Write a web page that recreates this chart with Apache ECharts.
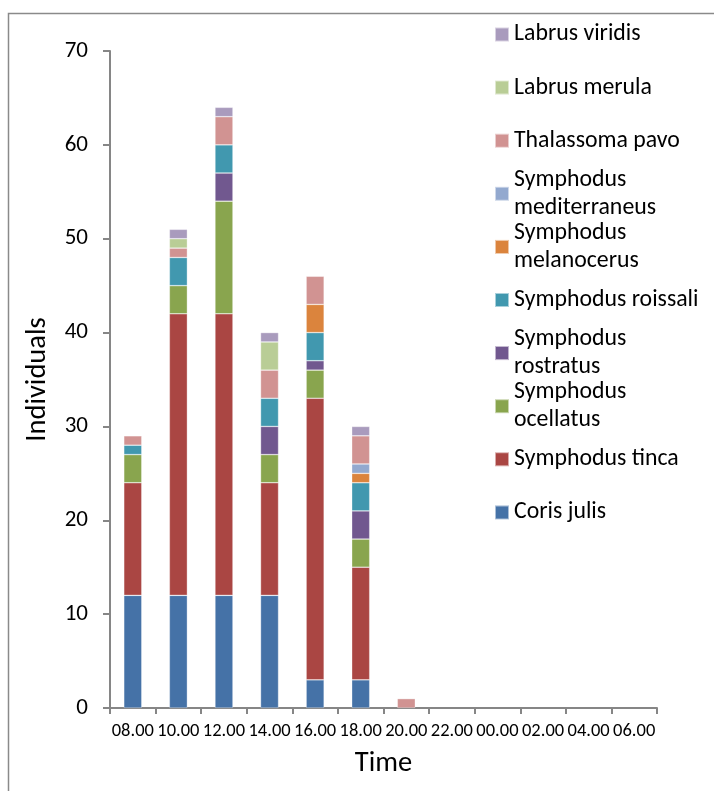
<!DOCTYPE html>
<html>
<head>
<meta charset="utf-8">
<script src="https://cdn.jsdelivr.net/npm/echarts@6/dist/echarts.min.js"></script>
<style>
  html, body { margin: 0; padding: 0; background: #fff; }
  #chart { width: 714px; height: 791px; }
</style>
</head>
<body>
<div id="chart"></div>
<script>
// Sampling times (x axis categories)
const categories = ['08.00', '10.00', '12.00', '14.00', '16.00', '18.00', '20.00', '22.00', '00.00', '02.00', '04.00', '06.00'];

// Individuals counted per species at each time
const corisJulis            = [12, 12, 12, 12, 3, 3, 0, 0, 0, 0, 0, 0];
const symphodusTinca        = [12, 30, 30, 12, 30, 12, 0, 0, 0, 0, 0, 0];
const symphodusOcellatus    = [3, 3, 12, 3, 3, 3, 0, 0, 0, 0, 0, 0];
const symphodusRostratus    = [0, 0, 3, 3, 1, 3, 0, 0, 0, 0, 0, 0];
const symphodusRoissali     = [1, 3, 3, 3, 3, 3, 0, 0, 0, 0, 0, 0];
const symphodusMelanocerus  = [0, 0, 0, 0, 3, 1, 0, 0, 0, 0, 0, 0];
const symphodusMediterraneus = [0, 0, 0, 0, 0, 1, 0, 0, 0, 0, 0, 0];
const thalassomaPavo        = [1, 1, 3, 3, 3, 3, 1, 0, 0, 0, 0, 0];
const labrusMerula          = [0, 1, 0, 3, 0, 0, 0, 0, 0, 0, 0, 0];
const labrusViridis         = [0, 1, 1, 1, 0, 1, 0, 0, 0, 0, 0, 0];

// Y axis range
const yMin = 0, yMax = 70, yStep = 10;

// Stacking order, bottom to top
const speciesList = [
  { name: 'Coris julis',            lines: ['Coris julis'],                 data: corisJulis,             color: '#4572A7' },
  { name: 'Symphodus tinca',        lines: ['Symphodus tinca'],             data: symphodusTinca,         color: '#AA4643' },
  { name: 'Symphodus ocellatus',    lines: ['Symphodus', 'ocellatus'],      data: symphodusOcellatus,     color: '#89A54E' },
  { name: 'Symphodus rostratus',    lines: ['Symphodus', 'rostratus'],      data: symphodusRostratus,     color: '#71588F' },
  { name: 'Symphodus roissali',     lines: ['Symphodus roissali'],          data: symphodusRoissali,      color: '#4198AF' },
  { name: 'Symphodus melanocerus',  lines: ['Symphodus', 'melanocerus'],    data: symphodusMelanocerus,   color: '#DB843D' },
  { name: 'Symphodus mediterraneus',lines: ['Symphodus', 'mediterraneus'],  data: symphodusMediterraneus, color: '#93A9CF' },
  { name: 'Thalassoma pavo',        lines: ['Thalassoma pavo'],             data: thalassomaPavo,         color: '#D19392' },
  { name: 'Labrus merula',          lines: ['Labrus merula'],               data: labrusMerula,           color: '#B9CD96' },
  { name: 'Labrus viridis',         lines: ['Labrus viridis'],              data: labrusViridis,          color: '#A99BBD' }
];

const FONT = 'Carlito, Lato, sans-serif';
const AXIS_GRAY = '#868686';

const series = speciesList.map(s => ({
  name: s.name,
  type: 'bar',
  stack: 'total',
  barWidth: 18,
  data: s.data.map(v => (v === 0 ? '-' : v)),
  itemStyle: { color: s.color, borderColor: 'rgba(255,255,255,0.55)', borderWidth: 0.6 },
  emphasis: { disabled: true }
}));

// Legend: one block per species, listed top-down in reverse stacking order
const LEGEND_LEFT = 494;
const LEGEND_FIRST = 34.5;
const LEGEND_STEP = 53.1;
const LINE_H = 27.7;
const legends = speciesList.slice().reverse().map((s, i) => {
  const center = LEGEND_FIRST + i * LEGEND_STEP;
  const twoLine = s.lines.length > 1;
  const boxH = twoLine ? LINE_H * 3 : LINE_H;
  return {
    left: LEGEND_LEFT,
    top: center - boxH / 2,
    padding: 0,
    itemWidth: 14,
    itemHeight: 14,
    icon: 'rect',
    selectedMode: false,
    data: [s.name],
    formatter: () => s.lines.join('\n'),
    textStyle: {
      fontFamily: FONT,
      fontSize: 23.8,
      color: '#000',
      lineHeight: LINE_H,
      padding: twoLine ? [LINE_H, 0, 0, 0] : 0
    }
  };
});

const chart = echarts.init(document.getElementById('chart'), null, { renderer: 'canvas' });
chart.setOption({
  animation: false,
  backgroundColor: '#ffffff',
  grid: { left: 110, right: 57, top: 51, bottom: 83, containLabel: false },
  xAxis: {
    type: 'category',
    data: categories,
    name: 'Time',
    nameLocation: 'middle',
    nameGap: 41,
    nameTextStyle: { fontFamily: FONT, fontSize: 28.5, color: '#000' },
    axisLine: { lineStyle: { color: AXIS_GRAY, width: 2 } },
    axisTick: { show: true, alignWithLabel: false, length: 6, lineStyle: { color: AXIS_GRAY, width: 2 } },
    axisLabel: { interval: 0, margin: 14, fontFamily: FONT, fontSize: 18.5, color: '#000' },
    splitLine: { show: false }
  },
  yAxis: {
    type: 'value',
    min: yMin,
    max: yMax,
    interval: yStep,
    name: 'Individuals',
    nameLocation: 'middle',
    nameGap: 58,
    nameTextStyle: { fontFamily: FONT, fontSize: 28.5, color: '#000' },
    axisLine: { show: true, lineStyle: { color: AXIS_GRAY, width: 2 } },
    axisTick: { show: true, length: 7, lineStyle: { color: AXIS_GRAY, width: 2 } },
    axisLabel: { margin: 22, fontFamily: FONT, fontSize: 23, color: '#000' },
    splitLine: { show: false }
  },
  legend: legends,
  graphic: [{
    type: 'rect',
    silent: true,
    shape: { x: 8.5, y: 13.5, width: 800, height: 900 },
    style: { fill: 'none', stroke: '#8a8a8a', lineWidth: 1.5 },
    z: -1
  }],
  series: series
});
</script>
</body>
</html>
